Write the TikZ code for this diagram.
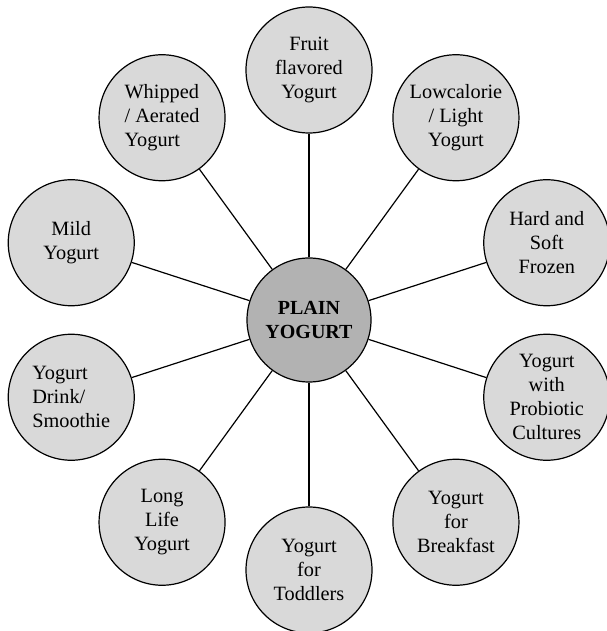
\documentclass[tikz,border=0pt]{standalone}
\usepackage{fontspec}
\setmainfont{Liberation Serif}
\usepackage{tikz}

\begin{document}
\begin{tikzpicture}[x=1pt, y=1pt,
        hub/.style={draw, circle, minimum size=124pt, inner sep=0pt,
            fill=gray!60, line width=1.2pt, align=center,
            font=\fontsize{20}{24}\selectfont\bfseries},
        kind/.style={draw, circle, minimum size=126pt, inner sep=0pt,
            fill=gray!30, line width=1.2pt, align=center,
            font=\fontsize{20.3}{24}\selectfont},
        spoke/.style={line width=1.2pt}]
        \useasboundingbox (-309, -311) rectangle (297, 320);

        % centre node
        \node[hub] (plain) at (0, 0) {PLAIN\\YOGURT};

        % nodes round the centre
        \node[kind] (fruit) at (90:250) {Fruit\\flavored\\Yogurt};
        \node[kind] (light) at (54:250) {Lowcalorie\\/ Light\\Yogurt};
        \node[kind] (frozen) at (18:250) {Hard and\\Soft\\Frozen};
        \node[kind] (probiotic) at (-18:250) {Yogurt\\with\\Probiotic\\Cultures};
        \node[kind] (breakfast) at (-54:250) {Yogurt\\for\\Breakfast};
        \node[kind] (toddlers) at (-90:250) {Yogurt\\for\\Toddlers};
        \node[kind] (longlife) at (-126:250) {Long\\Life\\Yogurt};
        \node[kind, align=left] (drink) at (-162:250) {Yogurt\\Drink/\\Smoothie};
        \node[kind] (mild) at (162:250) {Mild\\Yogurt};
        \node[kind, align=left] (whipped) at (126:250) {Whipped\\/ Aerated\\Yogurt};

        % spokes
        \draw[spoke] (plain) -- (fruit);
        \draw[spoke] (plain) -- (light);
        \draw[spoke] (plain) -- (frozen);
        \draw[spoke] (plain) -- (probiotic);
        \draw[spoke] (plain) -- (breakfast);
        \draw[spoke] (plain) -- (toddlers);
        \draw[spoke] (plain) -- (longlife);
        \draw[spoke] (plain) -- (drink);
        \draw[spoke] (plain) -- (mild);
        \draw[spoke] (plain) -- (whipped);
\end{tikzpicture}
\end{document}
